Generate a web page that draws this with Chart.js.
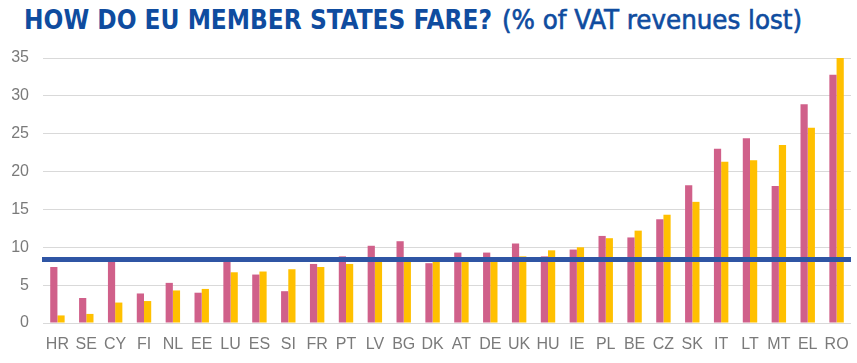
<!DOCTYPE html>
<html>
<head>
<meta charset="utf-8">
<script src="https://cdn.jsdelivr.net/npm/chart.js"></script>
<style>
  html, body { margin: 0; padding: 0; background: #fff; }
  #wrap { position: relative; width: 857px; height: 363px; }
  .t {
    position: absolute; top: 4px; white-space: nowrap;
    font-family: "DejaVu Sans Condensed", "DejaVu Sans", sans-serif;
    font-size: 27px; color: #0f4c9f; transform-origin: 0 0;
  }
  #t1 { left: 24px; font-weight: bold; }
  #t2 { left: 502px; font-weight: normal; -webkit-text-stroke: 0.6px #0f4c9f; }
  canvas { position: absolute; left: 0; top: 0; }
</style>
</head>
<body>
<div id="wrap">
  <div class="t" id="t1">HOW DO EU MEMBER STATES FARE?</div>
  <div class="t" id="t2">(% of VAT revenues lost)</div>
  <canvas id="c" width="857" height="363"></canvas>
</div>
<script>
    'use strict';

    // pays
    const countries = ['HR', 'SE', 'CY', 'FI', 'NL', 'EE', 'LU', 'ES', 'SI', 'FR', 'PT', 'LV', 'BG', 'DK',
        'AT', 'DE', 'UK', 'HU', 'IE', 'PL', 'BE', 'CZ', 'SK', 'IT', 'LT', 'MT', 'EL', 'RO'];
    const gapPink = [7.4, 3.3, 8.5, 3.9, 5.3, 4.0, 8.5, 6.4, 4.2, 7.8, 8.8, 10.2, 10.8, 7.9,
        9.3, 9.3, 10.5, 8.8, 9.7, 11.5, 11.3, 13.7, 18.2, 23.0, 24.4, 18.1, 28.9, 32.8];
    const gapYellow = [1.0, 1.2, 2.7, 2.9, 4.3, 4.5, 6.7, 6.8, 7.1, 7.4, 7.8, 8.2, 8.2, 8.1,
        8.2, 8.2, 8.8, 9.6, 10.0, 11.2, 12.2, 14.3, 16.0, 21.3, 21.5, 23.5, 25.8, 35.0];
    const euAverage = 8.4;
    const yTicks = [0, 5, 10, 15, 20, 25, 30, 35];

    // ajuster la largeur du titre
    function fit(id, w) {
        const el = document.getElementById(id);
        el.style.transform = 'scaleX(' + (w / el.getBoundingClientRect().width) + ')';
    }
    fit('t1', 468);
    fit('t2', 300);

    // moyenne UE : ligne horizontale pleine largeur
    const avgLine = {
        id: 'avgLine',
        afterDatasetsDraw(chart) {
            const y = chart.scales.y.getPixelForValue(euAverage);
            const ctx = chart.ctx;
            ctx.save();
            ctx.strokeStyle = '#2f55a4';
            ctx.lineWidth = 5;
            ctx.beginPath();
            ctx.moveTo(chart.chartArea.left - 1, y);
            ctx.lineTo(chart.chartArea.right, y);
            ctx.stroke();
            ctx.restore();
        }
    };

    const tickFont = { family: "'Liberation Sans', Arial, sans-serif", size: 16 };

    new Chart(document.getElementById('c').getContext('2d'), {
        type: 'bar',
        data: {
            labels: countries,
            datasets: [
                { data: gapPink, backgroundColor: '#d0608a', categoryPercentage: 0.5, barPercentage: 1 },
                { data: gapYellow, backgroundColor: '#ffc000', categoryPercentage: 0.5, barPercentage: 1 }
            ]
        },
        options: {
            responsive: false,
            animation: false,
            layout: { padding: { top: 58, right: 6, left: 0, bottom: 0 } },
            plugins: { legend: { display: false }, tooltip: { enabled: false } },
            scales: {
                x: {
                    grid: { display: false },
                    border: { display: false },
                    ticks: { color: '#7a7a7a', font: tickFont, padding: 4, maxRotation: 0, autoSkip: false },
                    afterFit(scale) { scale.height = 40; }
                },
                y: {
                    min: 0, max: 35,
                    afterBuildTicks(scale) { scale.ticks = yTicks.map(v => ({ value: v })); },
                    grid: { color: '#d9d9d9', lineWidth: 1, drawTicks: false },
                    border: { display: false },
                    ticks: { color: '#7a7a7a', font: tickFont, padding: 14 },
                    afterFit(scale) { scale.width = 43; }
                }
            }
        },
        plugins: [avgLine]
    });
</script>
</body>
</html>
